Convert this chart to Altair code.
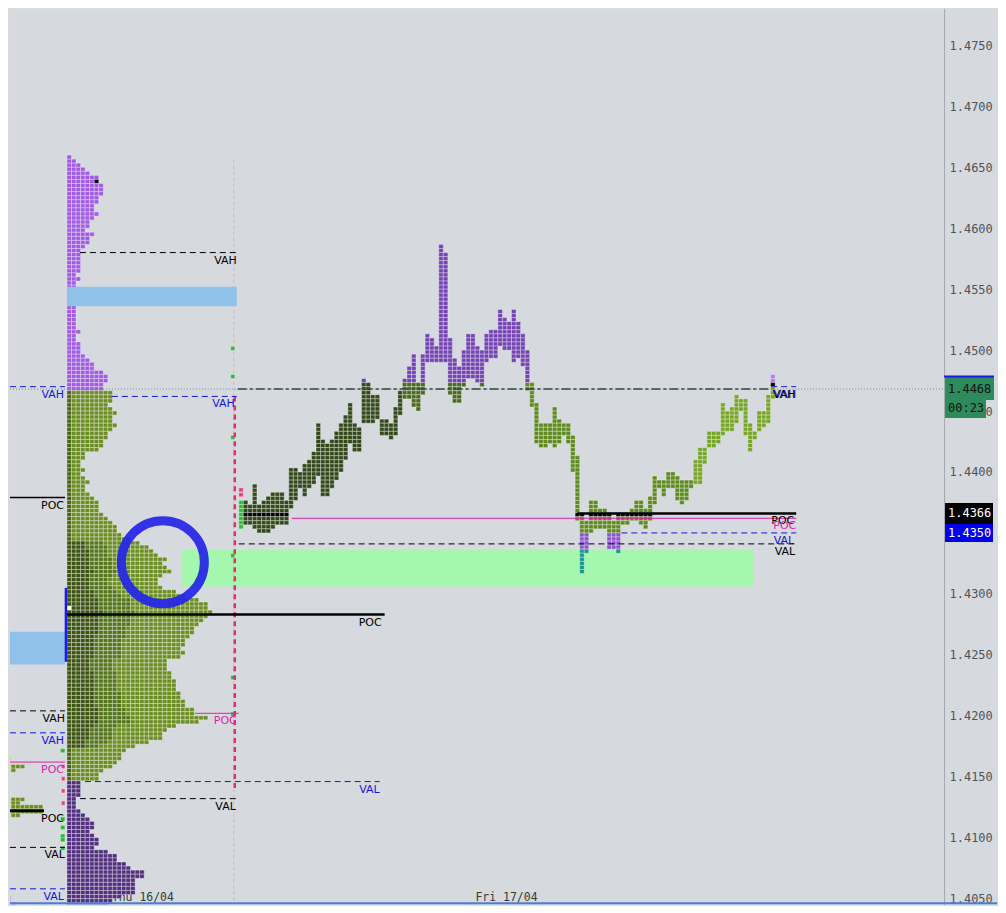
import altair as alt
import pandas as pd

alt.data_transformers.disable_max_rows()

# ------------------------------------------------------------------ data
BG = "#d6d9de"
TOP = 1.4660            # upper edge of the highest TPO row
TPO = 0.005 / 15        # price height of one TPO row

# Thursday 16/04 profile: TPO count per row, from 1.4660 downwards
thu_counts = [
    1, 2, 3, 4, 5, 7, 7, 8, 8, 8,
    7, 7, 6, 6, 7, 6, 5, 5, 4, 6,
    5, 5, 4, 3, 3, 3, 3, 3, 3, 2,
    3, 2, 2, 2, 2, 2, 2, 2, 2, 2,
    2, 2, 2, 3, 2, 2, 3, 3, 3, 4,
    5, 6, 6, 8, 9, 9, 8, 8, 10, 10,
    10, 9, 10, 11, 10, 10, 11, 10, 9, 9,
    8, 8, 7, 4, 4, 3, 3, 4, 3, 4,
    5, 4, 4, 5, 6, 7, 7, 7, 8, 9,
    10, 11, 11, 12, 14, 16, 18, 19, 20, 22,
    21, 22, 23, 21, 20, 20, 21, 24, 26, 29,
    31, 31, 32, 31, 30, 29, 28, 28, 27, 26,
    26, 25, 26, 25, 22, 22, 22, 23, 23, 24,
    24, 24, 25, 25, 26, 26, 28, 28, 31, 29,
    24, 22, 21, 21, 18, 15, 13, 12, 12, 11,
    10, 8, 7, 7, 3, 3, 3, 3, 2, 2,
    2, 3, 4, 5, 6, 6, 5, 6, 7, 7,
    6, 9, 11, 11, 13, 14, 17, 17, 15, 15,
    15, 15, 12, 10, 9, 10,
]
THU_PURPLE_ABOVE = 1.4469
THU_DARK_BELOW = 1.4149
thu_open_level, thu_open_col = 1.4640, 6
thu_first_level = 1.4290

# Friday 17/04: per column, top and bottom TPO price
fri_high = [
    1.4377, 1.4377, 1.4373, 1.4390, 1.4373, 1.4377, 1.4380, 1.4383, 1.4383, 1.4383,
    1.4377, 1.4403, 1.4403, 1.4400, 1.4407, 1.4410, 1.4417, 1.4440, 1.4427, 1.4423,
    1.4427, 1.4433, 1.4440, 1.4447, 1.4457, 1.4440, 1.4437, 1.4477, 1.4473, 1.4463,
    1.4463, 1.4443, 1.4443, 1.4440, 1.4453, 1.4467, 1.4477, 1.4487, 1.4497, 1.4473,
    1.4497, 1.4513, 1.4510, 1.4503, 1.4587, 1.4580, 1.4510, 1.4493, 1.4487, 1.4500,
    1.4513, 1.4513, 1.4503, 1.4500, 1.4513, 1.4517, 1.4517, 1.4533, 1.4527, 1.4523,
    1.4533, 1.4523, 1.4513, 1.4500, 1.4473, 1.4457, 1.4440, 1.4440, 1.4440, 1.4453,
    1.4443, 1.4440, 1.4440, 1.4430, 1.4413, 1.4367, 1.4360, 1.4377, 1.4377, 1.4370,
    1.4370, 1.4367, 1.4360, 1.4367, 1.4367, 1.4367, 1.4370, 1.4377, 1.4377, 1.4370,
    1.4380, 1.4397, 1.4393, 1.4393, 1.4400, 1.4400, 1.4397, 1.4393, 1.4393, 1.4393,
    1.4410, 1.4420, 1.4420, 1.4433, 1.4433, 1.4433, 1.4457, 1.4450, 1.4453, 1.4463,
    1.4460, 1.4460, 1.4440, 1.4433, 1.4450, 1.4450, 1.4463, 1.4480,
]
fri_low = [
    1.4357, 1.4360, 1.4360, 1.4357, 1.4353, 1.4353, 1.4353, 1.4357, 1.4360, 1.4360,
    1.4360, 1.4373, 1.4380, 1.4390, 1.4383, 1.4390, 1.4393, 1.4400, 1.4383, 1.4383,
    1.4390, 1.4397, 1.4403, 1.4413, 1.4427, 1.4420, 1.4420, 1.4443, 1.4443, 1.4443,
    1.4447, 1.4433, 1.4433, 1.4430, 1.4433, 1.4450, 1.4463, 1.4463, 1.4457, 1.4453,
    1.4467, 1.4493, 1.4493, 1.4493, 1.4493, 1.4493, 1.4467, 1.4460, 1.4460, 1.4473,
    1.4480, 1.4480, 1.4477, 1.4473, 1.4493, 1.4497, 1.4497, 1.4507, 1.4503, 1.4503,
    1.4493, 1.4497, 1.4490, 1.4470, 1.4457, 1.4427, 1.4423, 1.4423, 1.4427, 1.4423,
    1.4427, 1.4433, 1.4427, 1.4403, 1.4363, 1.4320, 1.4337, 1.4353, 1.4357, 1.4357,
    1.4357, 1.4340, 1.4340, 1.4337, 1.4360, 1.4360, 1.4363, 1.4363, 1.4360, 1.4357,
    1.4363, 1.4377, 1.4390, 1.4383, 1.4390, 1.4390, 1.4380, 1.4377, 1.4380, 1.4390,
    1.4393, 1.4393, 1.4410, 1.4423, 1.4423, 1.4427, 1.4433, 1.4437, 1.4437, 1.4443,
    1.4453, 1.4433, 1.4420, 1.4430, 1.4437, 1.4440, 1.4443, 1.4463,
]
fri_period_start = [0, 1, 36, 63, 100]
fri_period_code = ["A", "B", "G", "D", "H"]
FRI_POC_LEVEL = 1.4367
FRI_PURPLE_ABOVE = 1.4474
FRI_LOWPURPLE_RANGE = (1.4339, 1.4351)
FRI_LAST_MARK = 1.4473
fri_pink_levels = [1.4387, 1.4383]

# older sessions, far left
old_green_levels = [1.4167, 1.4163, 1.4160, 1.4157, 1.4153, 1.4133, 1.4130, 1.4127, 1.4123, 1.4120]
old_green_counts = [2, 1, 5, 3, 1, 5, 4, 9, 9, 4]
old_purple_levels = [1.4057, 1.4053, 1.4050, 1.4047]
old_purple_counts = [1, 2, 2, 3]
side_green_levels = [1.4173, 1.4117, 1.4110, 1.4103, 1.4100, 1.4093]
side_pink_levels = [1.4160, 1.4150, 1.4140, 1.4130]
edge_green_levels = [1.4503, 1.4480, 1.4430, 1.4333, 1.4233, 1.4203]

# key levels (price, from, to, colour, style, width)
K, B, M = "#000000", "#1414d8", "#e01fa8"
lvl_price = [1.4580, 1.4470, 1.4462, 1.4379, 1.4283, 1.4204, 1.4202, 1.4186, 1.4162, 1.4146,
             1.4132, 1.4122, 1.4092, 1.4058, 1.4366, 1.4362, 1.4350, 1.4341, 1.4470,
             1.4468, 1.4468]
lvl_x0 = [78, 8, 110, 8, 65, 8, 193, 8, 8, 83, 78, 8, 8, 8, 576, 290, 620, 237, 770, 8, 236]
lvl_x1 = [235, 63, 235, 63, 383, 63, 237, 63, 63, 378, 235, 42, 63, 63, 795, 795, 795, 795, 795, 943, 770]
lvl_color = [K, B, B, K, K, K, M, B, M, B, K, K, K, B, K, M, B, K, B, "#6f8f88", "#2f4a44"]
lvl_style = ["dash", "dash", "dash", "solid", "solid", "dash", "solid", "dash", "solid", "dash",
             "dash", "solid", "dash", "dash", "solid", "solid", "dash", "dash", "dash",
             "dot", "dashdot"]
lvl_width = [1, 1, 1, 1.5, 2.5, 1, 1, 1, 1, 1, 1, 3, 1, 1, 2.5, 1, 1, 1, 1, 1, 1.5]

lab_text = ["VAH", "VAH", "VAH", "POC", "POC", "VAH", "POC", "VAH", "POC", "VAL",
            "VAL", "POC", "VAL", "VAL", "POC", "POC", "VAL", "VAL", "VAH", "VAH"]
lab_price = [1.4580, 1.4470, 1.4462, 1.4379, 1.4283, 1.4204, 1.4202, 1.4186, 1.4162, 1.4146,
             1.4132, 1.4122, 1.4092, 1.4058, 1.4366, 1.4362, 1.4350, 1.4341, 1.4470, 1.4470]
lab_x = [235, 62, 233, 62, 380, 63, 235, 62, 62, 378, 234, 62, 63, 62, 793, 795, 793, 794, 795, 794]
lab_color = [K, B, B, K, K, K, M, B, M, B, K, K, K, B, K, M, B, K, B, K]

price_ticks = [round(1.4050 + 0.005 * i, 4) for i in range(15)]
date_text = ["Thu 16/04", "Fri 17/04"]
date_x = [141, 505]
DATE_LEVEL = 1.40505

# zones
zone_x0 = [180, 65, 8]
zone_x1 = [752, 235, 63]
zone_top = [1.4336, 1.4552, 1.4269]
zone_bot = [1.4306, 1.4536, 1.4242]
zone_color = ["#a6f7ae", "#8fc1e9", "#8fc1e9"]

# price tags on the scale
tag_top = [1.44779, 1.44590, 1.43746, 1.43574]
tag_bot = [1.44590, 1.44443, 1.43574, 1.43426]
tag_x1 = [993, 985, 992, 992]
tag_color = ["#2e8b5c", "#2e8b5c", "#000000", "#0000ee"]
tag_text = ["1.4468", "00:23", "1.4366", "1.4350"]
tag_level = [1.4468, 1.44525, 1.4366, 1.4350]
tag_tcolor = ["#111111", "#111111", "#ffffff", "#ffffff"]

# ------------------------------------------------------------------ layout
THU_X0, FRI_X0, OLD_X0, CELL_W = 65.0, 237.0, 0.0, 4.55
XMIN, XMAX = 8, 943
YMIN, YMAX = 1.40451, 1.47803
W, H = XMAX - XMIN, 897
xs = alt.Scale(domain=[XMIN, XMAX], nice=False, zero=False)
ys = alt.Scale(domain=[YMIN, YMAX], nice=False, zero=False)

rows = []


def cell(x1, level, color, w=CELL_W):
    x2 = x1 + w
    if x2 <= XMIN or level <= YMIN + 0.00002:
        return
    rows.append(dict(x1=max(x1, XMIN + 0.5), x2=x2, y1=max(level - TPO, YMIN + 0.00001),
                     y2=level, c=color))


for k, n in enumerate(thu_counts):
    level = TOP - k * TPO
    for i in range(n):
        if level >= THU_PURPLE_ABOVE:
            col = "#a25ce4"
        elif level < THU_DARK_BELOW:
            col = "#52307e"
        elif n >= 15 and i < 0.22 * n:
            col = "#3d5413"
        elif n >= 15 and i < 0.45 * n:
            col = "#54751b"
        elif n < 15 and i == 0:
            col = "#4a6418"
        else:
            col = "#6b8e23"
        if abs(level - thu_open_level) < TPO / 2 and i == thu_open_col:
            col = "#000000"
        if abs(level - thu_first_level) < TPO / 2 and i == 0:
            col = "#ffffff"
        cell(THU_X0 + i * CELL_W, level, col)

period_color = {"A": "#2fbf3a", "B": "#33491b", "G": "#4a6a1e", "D": "#5f8a1f", "H": "#77a52a"}
last = len(fri_high) - 1
for c, (hi, lo) in enumerate(zip(fri_high, fri_low)):
    per = fri_period_code[0]
    for s, p in zip(fri_period_start, fri_period_code):
        if c >= s:
            per = p
    k0 = round((TOP - hi) / TPO)
    k1 = round((TOP - lo) / TPO)
    for k in range(k0, k1 + 1):
        level = TOP - k * TPO
        if level > FRI_PURPLE_ABOVE:
            col = "#b478f0" if c == last else "#7445b2"
        elif c == last and abs(level - FRI_LAST_MARK) < TPO / 2:
            col = "#000000"
        elif abs(level - FRI_POC_LEVEL) < TPO / 2 and per in ("B", "D"):
            col = "#000000"
        elif FRI_LOWPURPLE_RANGE[0] < level < FRI_LOWPURPLE_RANGE[1]:
            col = "#8c56cf"
        elif level < FRI_LOWPURPLE_RANGE[0]:
            col = "#14998a"
        else:
            col = period_color[per]
        cell(FRI_X0 + c * CELL_W, level, col)

for lv in fri_pink_levels:
    cell(FRI_X0, lv, "#e8407a")
for lv, n in zip(old_green_levels, old_green_counts):
    for i in range(n):
        cell(OLD_X0 + i * CELL_W, lv, "#6b8e23")
for lv, n in zip(old_purple_levels, old_purple_counts):
    for i in range(n):
        cell(OLD_X0 + i * CELL_W, lv, "#7a4cc0")
for lv in side_green_levels:
    cell(58.5, lv, "#2db83a", 4.5)
for lv in side_pink_levels:
    cell(59.5, lv, "#e8407a", 3.5)
for lv in edge_green_levels:
    cell(229.0, lv, "#2db83a", 4.0)

cells = pd.DataFrame(rows)
zones = pd.DataFrame(dict(x0=zone_x0, x1=zone_x1, t=zone_top, b=zone_bot, c=zone_color))
lines = pd.DataFrame(dict(p=lvl_price, x0=lvl_x0, x1=lvl_x1, c=lvl_color, st=lvl_style, w=lvl_width))
labels = pd.DataFrame(dict(t=lab_text, p=lab_price, x=lab_x, c=lab_color))
dates = pd.DataFrame(dict(t=date_text, x=date_x, p=[DATE_LEVEL] * 2))
tags = pd.DataFrame(dict(t=tag_top, b=tag_bot, x0=[944] * 4, x1=tag_x1, c=tag_color))
tagtxt = pd.DataFrame(dict(t=tag_text, p=tag_level, x=[947] * 4, c=tag_tcolor))

Y_AXIS = alt.Axis(orient="right", values=price_ticks, format=".4f", ticks=False,
                  labelFont="DejaVu Sans Mono", labelFontSize=12, labelColor="#50545a",
                  labelPadding=5, domainColor="#a4a7ac", grid=False, title=None)


def X(f):
    return alt.X(f, type="quantitative", scale=xs, axis=None)


def Y(f):
    return alt.Y(f, type="quantitative", scale=ys, axis=Y_AXIS)


bg_zone = alt.Chart(zones.iloc[[0]]).mark_rect().encode(
    x=X("x0"), x2="x1", y=Y("t"), y2="b", fill=alt.Fill("c:N", scale=None))
date_layer = alt.Chart(dates).mark_text(font="DejaVu Sans Mono", fontSize=11.5, color="#3a3a3a",
                                        baseline="middle").encode(x=X("x"), y=Y("p"), text="t:N")
cell_layer = alt.Chart(cells).mark_rect(stroke="#ffffff", strokeWidth=0.7, strokeOpacity=0.45).encode(
    x=X("x1"), x2="x2", y=Y("y1"), y2="y2", fill=alt.Fill("c:N", scale=None))
top_zones = alt.Chart(zones.iloc[[1, 2]]).mark_rect().encode(
    x=X("x0"), x2="x1", y=Y("t"), y2="b", fill=alt.Fill("c:N", scale=None))
vline = alt.Chart(pd.DataFrame(dict(x=[64], t=[1.43049], b=[1.42443]))).mark_rule(
    color="#1a1aee", strokeWidth=2.5).encode(x=X("x"), y=Y("t"), y2="b")
pink_faint = alt.Chart(pd.DataFrame(dict(x=[232], t=[1.4656], b=[1.4047]))).mark_rule(
    color="#e9a8c2", strokeWidth=1, strokeDash=[3, 3]).encode(x=X("x"), y=Y("t"), y2="b")
pink_strong = alt.Chart(pd.DataFrame(dict(x=[233], t=[1.4462], b=[1.4140]))).mark_rule(
    color="#e0306a", strokeWidth=2.5, strokeDash=[5, 4]).encode(x=X("x"), y=Y("t"), y2="b")

dash_map = {"solid": None, "dash": [6, 4], "dot": [1, 2], "dashdot": [9, 3, 3, 3]}
rule_layers = []
for st in ["dot", "solid", "dash", "dashdot"]:
    d = lines[lines.st == st]
    mk = alt.Chart(d).mark_rule() if dash_map[st] is None else alt.Chart(d).mark_rule(strokeDash=dash_map[st])
    rule_layers.append(mk.encode(x=X("x0"), x2="x1", y=Y("p"),
                                 color=alt.Color("c:N", scale=None),
                                 strokeWidth=alt.StrokeWidth("w:Q", scale=None)))

label_layer = alt.Chart(labels).mark_text(font="DejaVu Sans", fontSize=11, align="right",
                                          baseline="middle", dy=8).encode(
    x=X("x"), y=Y("p"), text="t:N", color=alt.Color("c:N", scale=None))

tag_layer = alt.Chart(tags).mark_rect().encode(
    x=X("x0"), x2="x1", y=Y("t"), y2="b", fill=alt.Fill("c:N", scale=None))
tag_border = alt.Chart(pd.DataFrame(dict(x0=[943], x1=[993], p=[1.44783]))).mark_rule(
    color="#1a1ae0", strokeWidth=2).encode(x=X("x0"), x2="x1", y=Y("p"))
tag_text_layer = alt.Chart(tagtxt).mark_text(font="DejaVu Sans Mono", fontSize=12, align="left",
                                             baseline="middle").encode(
    x=X("x"), y=Y("p"), text="t:N", color=alt.Color("c:N", scale=None))
bottom_line = alt.Chart(pd.DataFrame(dict(x0=[8], x1=[996], p=[1.40462]))).mark_rule(
    color="#4a7fd4", strokeWidth=2).encode(x=X("x0"), x2="x1", y=Y("p"))

circle = alt.Chart(pd.DataFrame(dict(x=[161], p=[1.4326]))).mark_point(
    shape="circle", filled=False, size=6900, strokeWidth=9, color="#2626e8", opacity=0.93).encode(
    x=X("x"), y=Y("p"))

chart = alt.layer(
    bg_zone, date_layer, pink_faint, cell_layer, top_zones, vline, pink_strong,
    *rule_layers, label_layer, tag_layer, tag_border, tag_text_layer, bottom_line, circle,
).properties(width=W, height=H, padding=0).configure_view(
    strokeWidth=0, fill=BG).configure(background=BG)

chart.save("out.html", embed_options={"renderer": "svg", "actions": False})
